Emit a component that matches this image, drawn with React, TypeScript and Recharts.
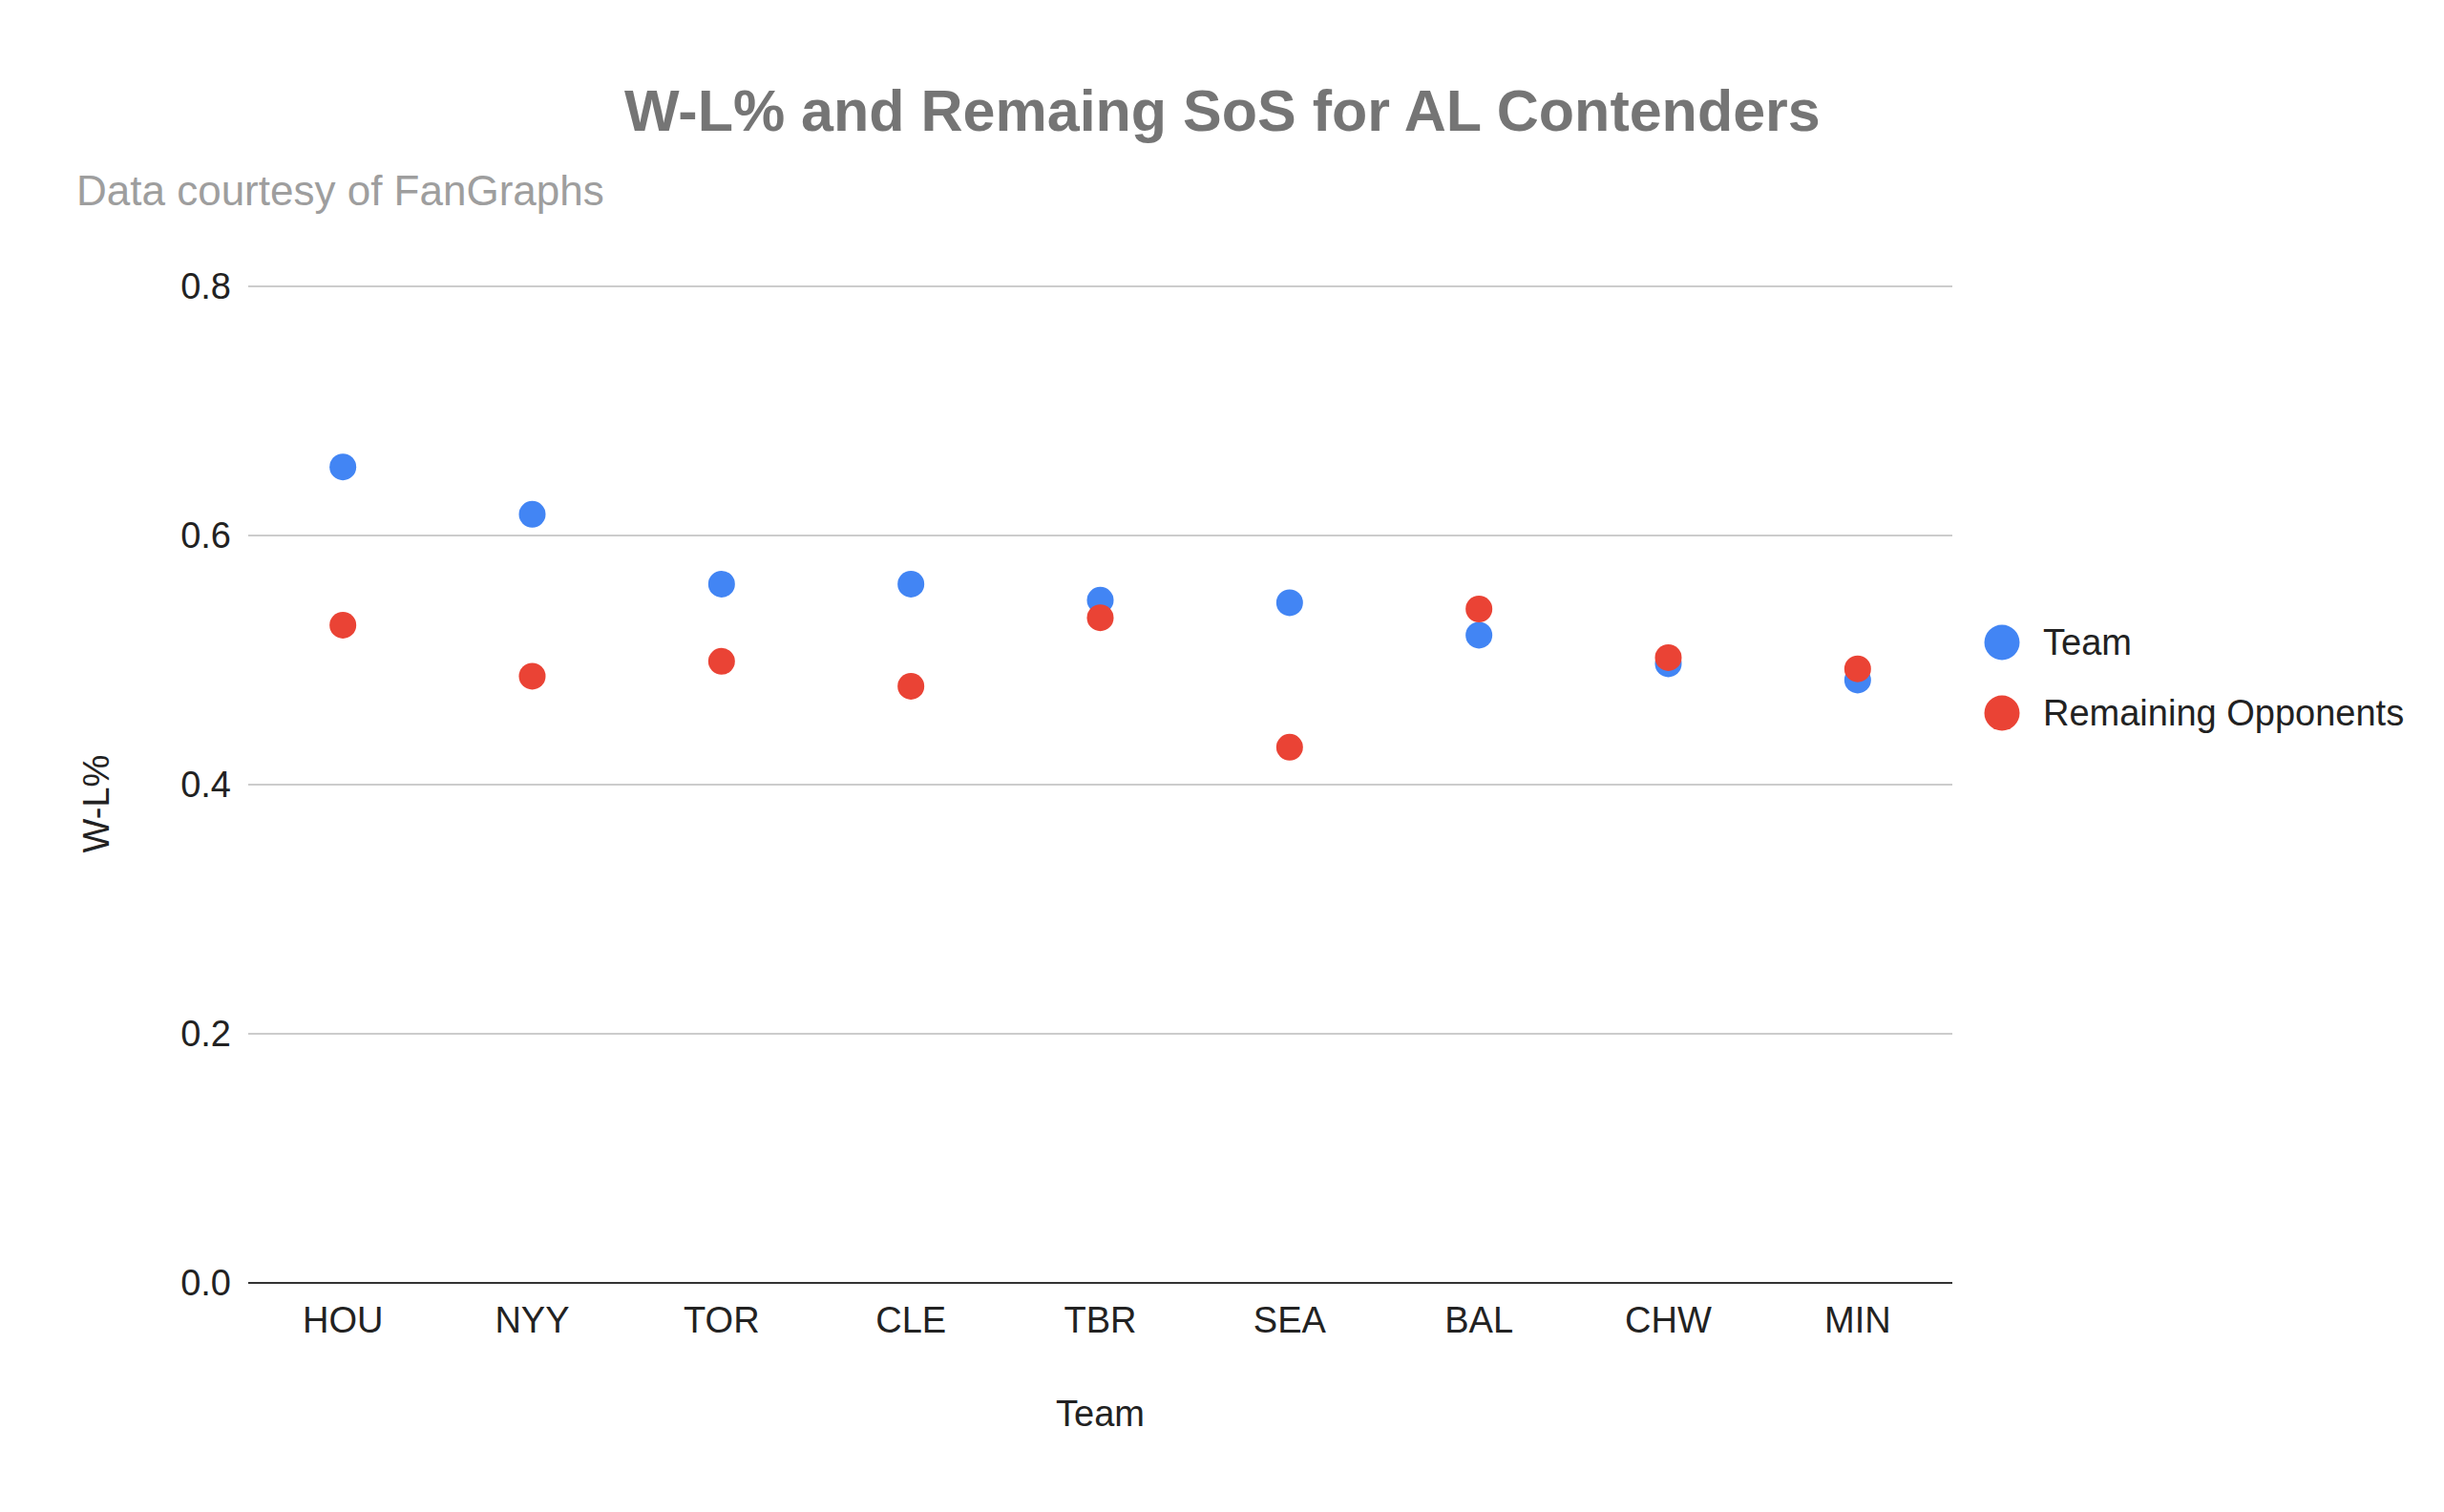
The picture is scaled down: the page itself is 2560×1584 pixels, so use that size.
import React from "react";
import {
  ComposedChart,
  Scatter,
  XAxis,
  YAxis,
  CartesianGrid,
} from "recharts";

const teams = ["HOU", "NYY", "TOR", "CLE", "TBR", "SEA", "BAL", "CHW", "MIN"];
const teamWL = [0.655, 0.617, 0.561, 0.561, 0.548, 0.546, 0.52, 0.497, 0.484];
const oppWL = [0.528, 0.487, 0.499, 0.479, 0.534, 0.43, 0.541, 0.502, 0.493];
const yTicks = [0, 0.2, 0.4, 0.6, 0.8];

const seriesNames = ["Team", "Remaining Opponents"];
const seriesColors = ["#4285F4", "#EA4335"];

const data = teams.map((t, i) => ({ team: t, wl: teamWL[i], opp: oppWL[i] }));

const FONT = '"Liberation Sans", Arial, sans-serif';

const Dot = (color: string) => (p: any) =>
  p.cx == null || p.cy == null ? null : (
    <circle cx={p.cx} cy={p.cy} r={14} fill={color} />
  );

const LegendBox = () => (
  <div
    style={{
      position: "absolute",
      left: 2078,
      top: 636,
      fontFamily: FONT,
      fontSize: 38,
      color: "#222",
      whiteSpace: "nowrap",
    }}
  >
    {seriesNames.map((n, i) => (
      <div
        key={n}
        style={{ display: "flex", alignItems: "center", height: 74 }}
      >
        <svg width={38} height={38} style={{ marginRight: 24 }}>
          <circle cx={19} cy={19} r={18.5} fill={seriesColors[i]} />
        </svg>
        <span>{n}</span>
      </div>
    ))}
  </div>
);

export default function App() {
  return (
    <div
      style={{
        position: "absolute",
        left: 0,
        top: 0,
        width: 2560,
        height: 1584,
        background: "#fff",
        fontFamily: FONT,
      }}
    >
      <div
        style={{
          position: "absolute",
          left: 654,
          top: 80,
          fontSize: 61,
          fontWeight: "bold",
          color: "#757575",
          whiteSpace: "nowrap",
          lineHeight: "72px",
        }}
      >
        W-L% and Remaing SoS for AL Contenders
      </div>
      <div
        style={{
          position: "absolute",
          left: 80,
          top: 172,
          fontSize: 44,
          color: "#9e9e9e",
          whiteSpace: "nowrap",
          lineHeight: "56px",
        }}
      >
        Data courtesy of FanGraphs
      </div>
      <ComposedChart
        width={2560}
        height={1584}
        data={data}
        margin={{ top: 300, right: 515, bottom: 0, left: 160 }}
      >
        <CartesianGrid vertical={false} stroke="#cccccc" strokeWidth={2} />
        <XAxis
          dataKey="team"
          type="category"
          scale="band"
          height={240}
          tickLine={false}
          tickSize={0}
          tickMargin={25}
          axisLine={{ stroke: "#333333", strokeWidth: 2 }}
          tick={{ fill: "#222", fontSize: 38, fontFamily: FONT }}
          interval={0}
          label={{
            content: (props: any) => {
              const vb = props.viewBox || {};
              return (
                <text
                  x={vb.x + vb.width / 2}
                  y={vb.y + 150}
                  textAnchor="middle"
                  fill="#222"
                  fontSize={38}
                  fontFamily={FONT}
                >
                  Team
                </text>
              );
            },
          }}
        />
        <YAxis
          width={100}
          domain={[0, 0.8]}
          ticks={yTicks}
          tickFormatter={(v: number) => v.toFixed(1)}
          axisLine={false}
          tickLine={false}
          tickSize={0}
          tickMargin={18}
          tick={{ fill: "#222", fontSize: 38, fontFamily: FONT }}
          label={{
            content: (props: any) => {
              const vb = props.viewBox || {};
              const cx = 101;
              const cy = vb.y + vb.height / 2 + 20;
              return (
                <text
                  x={cx}
                  y={cy}
                  transform={`rotate(-90 ${cx} ${cy})`}
                  textAnchor="middle"
                  dominantBaseline="central"
                  fill="#222"
                  fontSize={38}
                  fontFamily={FONT}
                >
                  W-L%
                </text>
              );
            },
          }}
        />
        <Scatter
          name={seriesNames[0]}
          dataKey="wl"
          fill={seriesColors[0]}
          shape={Dot(seriesColors[0])}
          isAnimationActive={false}
        />
        <Scatter
          name={seriesNames[1]}
          dataKey="opp"
          fill={seriesColors[1]}
          shape={Dot(seriesColors[1])}
          isAnimationActive={false}
        />
      </ComposedChart>
      <LegendBox />
    </div>
  );
}
